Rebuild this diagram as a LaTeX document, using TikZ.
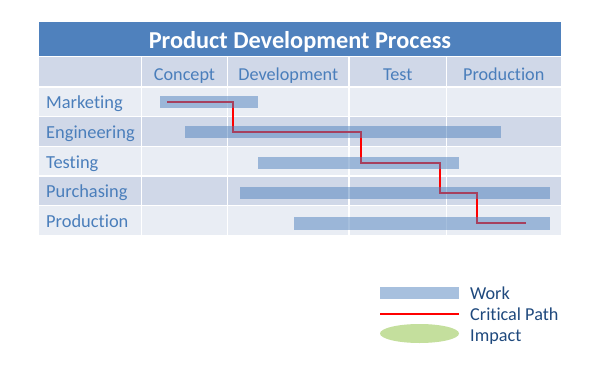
\documentclass[tikz,border=0pt]{standalone}
\usepackage{fontspec}
\setmainfont[Ligatures=CommonOff]{Carlito}
\usetikzlibrary{shapes.geometric}
\definecolor{titlebg}{HTML}{4F81BD}
\definecolor{darkrow}{HTML}{D0D8E8}
\definecolor{lightrow}{HTML}{E9EDF4}
\definecolor{labelblue}{HTML}{4A7EBB}
\definecolor{legendtext}{HTML}{1F497D}
\definecolor{impact}{HTML}{C4DF9D}
\begin{document}
\begin{tikzpicture}[x=1pt,y=-1pt,
  gridline/.style={draw=white, line width=1.4pt},
  rowlabel/.style={anchor=base west, text=labelblue, font=\fontsize{18.4}{20}\selectfont, inner sep=0},
  colhead/.style={anchor=base, text=labelblue, font=\fontsize{18.2}{20}\selectfont, inner sep=0},
  bar/.style={fill=titlebg, fill opacity=0.5, draw=none, inner sep=0, minimum height=12pt, anchor=north west},
  crit/.style={draw=red, line width=2pt},
  legtext/.style={anchor=base west, text=legendtext, font=\fontsize{18.2}{20}\selectfont, inner sep=0}]
\useasboundingbox (0,0) rectangle (592,375);
% title
\fill[titlebg] (39,22) rectangle (561,56);
\node[anchor=base, inner sep=0, text=white, font=\bfseries\fontsize{24.3}{26}\selectfont] (title) at (300,48) {Product Development Process};
% backgrounds
\fill[darkrow] (39,56.5) rectangle (561,87);
\fill[lightrow] (39,87) rectangle (561,116.6);
\fill[darkrow] (39,116.6) rectangle (561,146.2);
\fill[lightrow] (39,146.2) rectangle (561,175.8);
\fill[darkrow] (39,175.8) rectangle (561,205.4);
\fill[lightrow] (39,205.4) rectangle (561,235);
% grid lines
\foreach \y in {56.5,87,116.6,146.2,175.8,205.4} \draw[gridline] (39,\y) -- (561,\y);
\foreach \x in {141.5,227.5,349,446.5} \draw[gridline] (\x,56.5) -- (\x,235);
% header
\node[colhead] (hConcept) at (184.5,80) {Concept};
\node[colhead] (hDev) at (288.25,80) {Development};
\node[colhead] (hTest) at (397.75,80) {Test};
\node[colhead] (hProd) at (503.75,80) {Production};
% row labels
\node[rowlabel] (lMkt) at (46,108) {Marketing};
\node[rowlabel] (lEng) at (46,138) {Engineering};
\node[rowlabel] (lTst) at (46,168) {Testing};
\node[rowlabel] (lPur) at (46,197.5) {Purchasing};
\node[rowlabel] (lPrd) at (46,227) {Production};
% critical path
\coordinate (p0) at (167,102);
\coordinate (p1) at (233,132);
\coordinate (p2) at (361,163);
\coordinate (p3) at (440,193);
\coordinate (p4) at (477,223);
\coordinate (p5) at (526,223);
\draw[crit] (p0) -| (p1) -| (p2) -| (p3) -| (p4) -- (p5);
% bars
\node[bar, minimum width=98pt] (bMkt) at (160,96) {};
\node[bar, minimum width=316pt] (bEng) at (185,126) {};
\node[bar, minimum width=201pt] (bTst) at (258,157) {};
\node[bar, minimum width=310pt] (bPur) at (240,187) {};
\node[bar, minimum width=256pt, minimum height=13pt] (bPrd) at (294,217) {};
% legend
\node[bar, minimum width=79pt] (legWork) at (380,287) {};
\coordinate (lc0) at (380,314);
\coordinate (lc1) at (459,314);
\draw[crit] (lc0) -- (lc1);
\node[ellipse, fill=impact, minimum width=79pt, minimum height=19pt, inner sep=0] (legImpact) at (419.5,333.5) {};
\node[legtext] (tWork) at (470,299) {Work};
\node[legtext] (tCrit) at (470,320) {Critical Path};
\node[legtext] (tImp) at (470,341.5) {Impact};
\end{tikzpicture}
\end{document}
